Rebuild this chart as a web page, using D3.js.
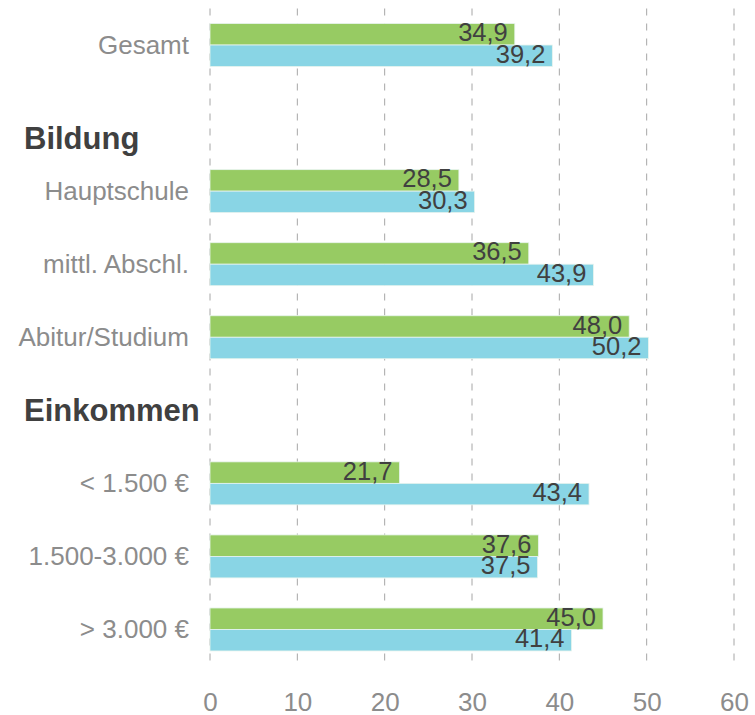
<!DOCTYPE html>
<html>
<head>
<meta charset="utf-8">
<script src="https://cdn.jsdelivr.net/npm/d3@7"></script>
<style>
  body { margin: 0; background: #fff; }
  text { font-family: "Liberation Sans", Arial, sans-serif; }
</style>
</head>
<body>
<svg id="chart"></svg>
<script>
// rows of the chart (headers are text only, no bars)
var rows = ["Gesamt", "Bildung", "Hauptschule", "mittl. Abschl.", "Abitur/Studium",
            "Einkommen", "< 1.500 €", "1.500-3.000 €", "> 3.000 €"];
var headers = ["Bildung", "Einkommen"];
var categories = ["Gesamt", "Hauptschule", "mittl. Abschl.", "Abitur/Studium",
                  "< 1.500 €", "1.500-3.000 €", "> 3.000 €"];
var serieGruen = [34.9, 28.5, 36.5, 48.0, 21.7, 37.6, 45.0];
var serieBlau  = [39.2, 30.3, 43.9, 50.2, 43.4, 37.5, 41.4];
var ticks = [0, 10, 20, 30, 40, 50, 60];

var width = 755, height = 715;
var margin = {top: 8.5, right: 21, bottom: 49, left: 210};

var svg = d3.select("#chart")
    .attr("width", width)
    .attr("height", height);

var x = d3.scaleLinear()
    .domain([0, 60])
    .range([margin.left, width - margin.right]);

var y = d3.scaleBand()
    .domain(rows)
    .range([margin.top, height - margin.bottom])
    .paddingInner(0)
    .paddingOuter(0);

// bande interne pour les deux series
var ySub = d3.scaleBand()
    .domain(["gruen", "blau"])
    .range([0, y.bandwidth()])
    .paddingOuter(0.7)
    .paddingInner(0);

// grille pointillee
svg.append("g")
    .selectAll("line")
    .data(ticks)
    .enter()
    .append("line")
    .attr("x1", d => x(d))
    .attr("x2", d => x(d))
    .attr("y1", margin.top)
    .attr("y2", height - margin.bottom - 4)
    .attr("stroke", "#a6a6a6")
    .attr("stroke-width", 1)
    .attr("stroke-dasharray", "7,8");

// axe x (etiquettes seulement)
var xAxis = svg.append("g")
    .attr("transform", "translate(0," + (height - margin.bottom) + ")")
    .call(d3.axisBottom(x).tickValues(ticks).tickSize(0).tickPadding(27));
xAxis.select(".domain").remove();
xAxis.selectAll("text")
    .attr("fill", "#8c8c8c")
    .style("font-size", "26px")
    .style("font-family", "'Liberation Sans', Arial, sans-serif");

var data = categories.map((c, i) => ({cat: c, gruen: serieGruen[i], blau: serieBlau[i]}));
var colors = {gruen: "#97cb63", blau: "#89d5e5"};

var groups = svg.selectAll("g.row")
    .data(data)
    .enter()
    .append("g")
    .attr("class", "row")
    .attr("transform", d => "translate(0," + y(d.cat) + ")");

["gruen", "blau"].forEach(function (s) {
    groups.append("rect")
        .attr("x", x(0))
        .attr("y", ySub(s))
        .attr("width", d => x(d[s]) - x(0))
        .attr("height", ySub.bandwidth())
        .attr("fill", colors[s])
        .attr("stroke", "#e8f4ee")
        .attr("stroke-width", 0.8);
});

["gruen", "blau"].forEach(function (s) {
    groups.append("text")
        .attr("x", d => x(d[s]) - 7)
        .attr("y", ySub(s) + ySub.bandwidth() / 2 + 7)
        .attr("text-anchor", "end")
        .attr("fill", "#404040")
        .style("font-size", "25.5px")
        .text(d => d3.format(".1f")(d[s]).replace(".", ","));
});

// etiquettes des categories
groups.append("text")
    .attr("x", 189)
    .attr("y", y.bandwidth() / 2 + 9)
    .attr("text-anchor", "end")
    .attr("fill", "#8c8c8c")
    .style("font-size", "26px")
    .text(d => d.cat);

// titres de section
var headerShift = {"Bildung": 20, "Einkommen": 0};
svg.selectAll("text.header")
    .data(headers)
    .enter()
    .append("text")
    .attr("class", "header")
    .attr("x", 24)
    .attr("y", d => y(d) + y.bandwidth() / 2 + 11 + headerShift[d])
    .attr("fill", "#404040")
    .style("font-size", "31px")
    .style("font-weight", "bold")
    .text(d => d);
</script>
</body>
</html>
